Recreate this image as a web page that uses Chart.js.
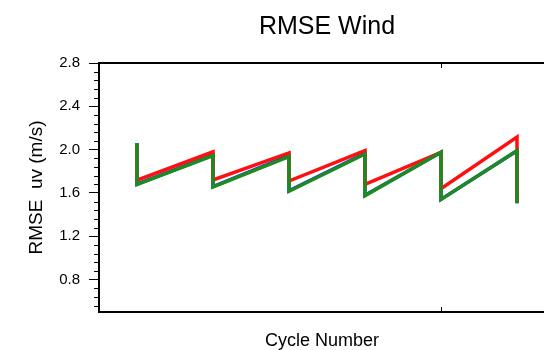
<!DOCTYPE html>
<html>
<head>
<meta charset="utf-8">
<script src="https://cdn.jsdelivr.net/npm/chart.js@4/dist/chart.umd.min.js"></script>
<style>
  html, body { margin: 0; padding: 0; overflow: hidden; background: #fff; }
</style>
</head>
<body>
<canvas id="rmseChart" width="560" height="350"></canvas>
<script>
// cycle number of each point; each cycle starts with a vertical drop
const cycleX = [1, 1, 2, 2, 3, 3, 4, 4, 5, 5, 6, 6];
const greenRmse = [2.06, 1.677, 1.945, 1.655, 1.935, 1.615, 1.96, 1.575, 1.975, 1.54, 1.99, 1.505];
const redRmse = [2.04, 1.717, 1.98, 1.72, 1.97, 1.71, 1.99, 1.68, 1.975, 1.64, 2.115, 1.52];
const blueRmse = [2.06, 1.68, 1.95, 1.658, 1.945, 1.62, 1.965, 1.578, 1.975, 1.54, 1.99, 1.505];
const yMajorTicks = [0.8, 1.2, 1.6, 2.0, 2.4, 2.8];
const xTickValues = [5];

const font = "'Liberation Sans', Arial, Helvetica, sans-serif";

function points(ys) {
  return cycleX.map((x, i) => ({ x: x, y: ys[i] }));
}

// frame, minor ticks, inward x ticks and the titles
const decorations = {
  id: 'decorations',
  afterDraw(chart) {
    const ctx = chart.ctx;
    const area = chart.chartArea;
    const xs = chart.scales.x;
    const ys = chart.scales.y;
    ctx.save();
    ctx.strokeStyle = '#000';

    // minor y ticks every 0.08
    ctx.lineWidth = 1;
    ctx.beginPath();
    for (let v = 0.56; v < 2.8; v += 0.08) {
      const r = Math.round(v * 100) / 100;
      if (yMajorTicks.some(m => Math.abs(m - r) < 1e-6)) continue;
      const py = Math.round(ys.getPixelForValue(r)) + 0.5;
      ctx.moveTo(area.left - 5, py);
      ctx.lineTo(area.left, py);
    }
    // inward x ticks on top and bottom
    xTickValues.forEach(v => {
      const px = Math.round(xs.getPixelForValue(v)) + 0.5;
      ctx.moveTo(px, area.bottom);
      ctx.lineTo(px, area.bottom - 5);
      ctx.moveTo(px, area.top);
      ctx.lineTo(px, area.top + 5);
    });
    ctx.stroke();

    // plot frame
    ctx.lineWidth = 2;
    ctx.strokeRect(area.left, area.top, area.right - area.left, area.bottom - area.top);

    ctx.fillStyle = '#000';
    ctx.textAlign = 'center';
    ctx.textBaseline = 'alphabetic';
    ctx.font = '25px ' + font;
    ctx.fillText('RMSE Wind', (area.left + area.right) / 2, 34);

    ctx.font = '18px ' + font;
    ctx.fillText('Cycle Number', 322, 346);

    ctx.translate(42, (area.top + area.bottom) / 2);
    ctx.rotate(-Math.PI / 2);
    ctx.font = '19px ' + font;
    ctx.fillText('RMSE  uv (m/s)', 0, 0);
    ctx.restore();
  }
};

new Chart(document.getElementById('rmseChart'), {
  type: 'line',
  data: {
    datasets: [
      { label: 'green', data: points(greenRmse), borderColor: '#1f8a1f' },
      { label: 'red', data: points(redRmse), borderColor: '#ff1010' },
      { label: 'blue', data: points(blueRmse), borderColor: '#1030ff' }
    ]
  },
  options: {
    responsive: false,
    animation: false,
    layout: { padding: { top: 63, right: 5, bottom: 38, left: 0 } },
    elements: {
      line: { borderWidth: 3.5, tension: 0, borderJoinStyle: 'miter' },
      point: { radius: 0 }
    },
    plugins: {
      legend: { display: false },
      tooltip: { enabled: false },
      title: { display: false }
    },
    scales: {
      x: {
        type: 'linear',
        min: 0.5,
        max: 6.5,
        display: false
      },
      y: {
        min: 0.5,
        max: 2.8,
        afterFit(scale) { scale.width = 99; },
        afterBuildTicks(scale) {
          scale.ticks = yMajorTicks.map(v => ({ value: v }));
        },
        ticks: {
          padding: 9,
          color: '#000',
          font: { family: font, size: 15 },
          callback: v => v.toFixed(1)
        },
        grid: {
          drawOnChartArea: false,
          drawTicks: true,
          tickLength: 10,
          color: '#000',
          lineWidth: 1
        },
        border: { display: false }
      }
    }
  },
  plugins: [decorations]
});
</script>
</body>
</html>
